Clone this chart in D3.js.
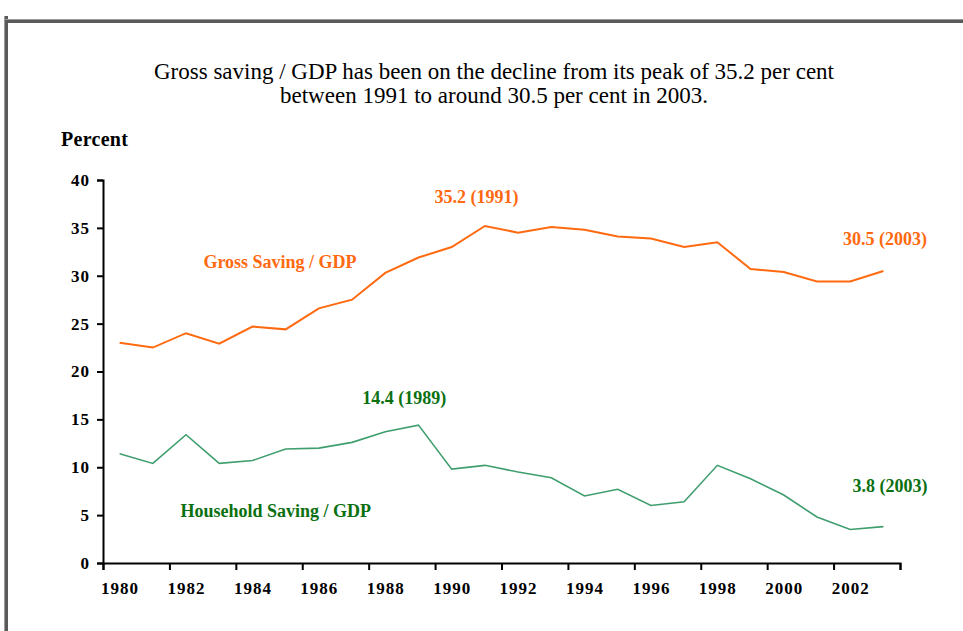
<!DOCTYPE html>
<html>
<head>
<meta charset="utf-8">
<script src="https://cdn.jsdelivr.net/npm/d3@7"></script>
<style>
  body { margin: 0; background: #fff; }
  svg text { font-family: "Liberation Serif", "Times New Roman", serif; }
</style>
</head>
<body>
<script>
// years on the x axis
var years = d3.range(1980, 2004);

// Gross saving / GDP, per cent
var grossSaving = [23.0, 22.5, 24.0, 22.9, 24.7, 24.4, 26.6, 27.5, 30.3, 31.9, 33.0, 35.2,
                   34.5, 35.1, 34.8, 34.1, 33.9, 33.0, 33.5, 30.7, 30.4, 29.4, 29.4, 30.5];

// Household saving / GDP, per cent
var householdSaving = [11.4, 10.4, 13.4, 10.4, 10.7, 11.9, 12.0, 12.6, 13.7, 14.4, 9.8, 10.2,
                       9.5, 8.9, 7.0, 7.7, 6.0, 6.4, 10.2, 8.8, 7.1, 4.8, 3.5, 3.8];

var yTicks = [0, 5, 10, 15, 20, 25, 30, 35, 40];
var xLabelYears = [1980, 1982, 1984, 1986, 1988, 1990, 1992, 1994, 1996, 1998, 2000, 2002];

var titleLines = ["Gross saving / GDP has been on the decline from its peak of 35.2 per cent",
                  "between 1991 to around 30.5 per cent in 2003."];

var width = 963, height = 631;
var margin = {top: 180, right: 63, bottom: 68, left: 103};

var svg = d3.select("body").append("svg")
    .attr("width", width)
    .attr("height", height);

// frame: grey bar on the left and across the top
svg.append("rect").attr("x", 4).attr("y", 16).attr("width", 4).attr("height", height - 16).attr("fill", "#5a5a5a");
svg.append("rect").attr("x", 4).attr("y", 19).attr("width", width - 4).attr("height", 4).attr("fill", "#5a5a5a");
svg.append("rect").attr("x", 4).attr("y", 19).attr("width", width - 4).attr("height", 1).attr("fill", "#9a9a9a");
svg.append("rect").attr("x", 4).attr("y", 16).attr("width", 1).attr("height", height - 16).attr("fill", "#9a9a9a");

// scales: each year is a category slot, ticks between every second slot
var xScale = d3.scaleLinear()
    .domain([years[0] - 0.5, years[years.length - 1] + 0.5])
    .range([margin.left, width - margin.right]);
var yScale = d3.scaleLinear()
    .domain([0, 40])
    .range([height - margin.bottom, margin.top]);

// title
svg.append("g").selectAll("text")
    .data(titleLines)
    .enter().append("text")
    .attr("x", 494)
    .attr("y", function(d, i) { return 79 + i * 24; })
    .attr("text-anchor", "middle")
    .attr("font-family", "Liberation Serif")
    .attr("font-size", 23)
    .attr("fill", "#000")
    .text(function(d) { return d; });

svg.append("text")
    .attr("x", 61).attr("y", 146)
    .attr("font-size", 20).attr("font-weight", "bold")
    .attr("letter-spacing", 0.3)
    .text("Percent");

// y axis
var yAxis = svg.append("g")
    .attr("transform", "translate(" + margin.left + ",0)")
    .call(d3.axisLeft(yScale).tickValues(yTicks).tickSize(6).tickPadding(7));

// x axis ticks (between categories)
var tickPos = d3.range(years[0] - 0.5, years[years.length - 1] + 1, 2);
var xAxis = svg.append("g")
    .attr("transform", "translate(0," + yScale(0) + ")")
    .call(d3.axisBottom(xScale).tickValues(tickPos).tickSize(7).tickFormat(""));

// x axis labels under the even years
var xLabels = svg.append("g")
    .attr("transform", "translate(0," + yScale(0) + ")")
    .call(d3.axisBottom(xScale).tickValues(xLabelYears).tickSize(0).tickPadding(19).tickFormat(d3.format("d")));
xLabels.select(".domain").remove();

[yAxis, xAxis].forEach(function(g) {
    g.select(".domain").attr("stroke", "#000").attr("stroke-width", 2);
    g.selectAll(".tick line").attr("stroke", "#000").attr("stroke-width", 2);
});
[yAxis, xLabels].forEach(function(g) {
    g.attr("font-family", null);
    g.selectAll("text")
        .attr("font-size", 17)
        .attr("font-weight", "bold")
        .attr("letter-spacing", 1)
        .attr("fill", "#000");
});

var line = d3.line()
    .x(function(d, i) { return xScale(years[i]); })
    .y(function(d) { return yScale(d); });

svg.append("path")
    .datum(grossSaving)
    .attr("d", line)
    .attr("fill", "none")
    .attr("stroke", "#ff6a10")
    .attr("stroke-width", 2);

svg.append("path")
    .datum(householdSaving)
    .attr("d", line)
    .attr("fill", "none")
    .attr("stroke", "#3f9e6e")
    .attr("stroke-width", 1.6);

// text boxes, placed in data coordinates
var annotations = [
    {text: "Gross Saving / GDP", year: 1984.83, value: 30.8, color: "#ff6a10"},
    {text: "35.2 (1991)", year: 1990.75, value: 37.6, color: "#ff6a10"},
    {text: "30.5 (2003)", year: 2003.05, value: 33.2, color: "#ff6a10"},
    {text: "14.4 (1989)", year: 1988.57, value: 16.6, color: "#0b7010"},
    {text: "Household Saving / GDP", year: 1984.7, value: 4.8, color: "#0b7010"},
    {text: "3.8 (2003)", year: 2003.2, value: 7.4, color: "#0b7010"}
];

svg.append("g").selectAll("text")
    .data(annotations)
    .enter().append("text")
    .attr("x", function(d) { return xScale(d.year); })
    .attr("y", function(d) { return yScale(d.value); })
    .attr("text-anchor", "middle")
    .attr("font-size", 18)
    .attr("font-weight", "bold")
    .attr("fill", function(d) { return d.color; })
    .text(function(d) { return d.text; });
</script>
</body>
</html>
